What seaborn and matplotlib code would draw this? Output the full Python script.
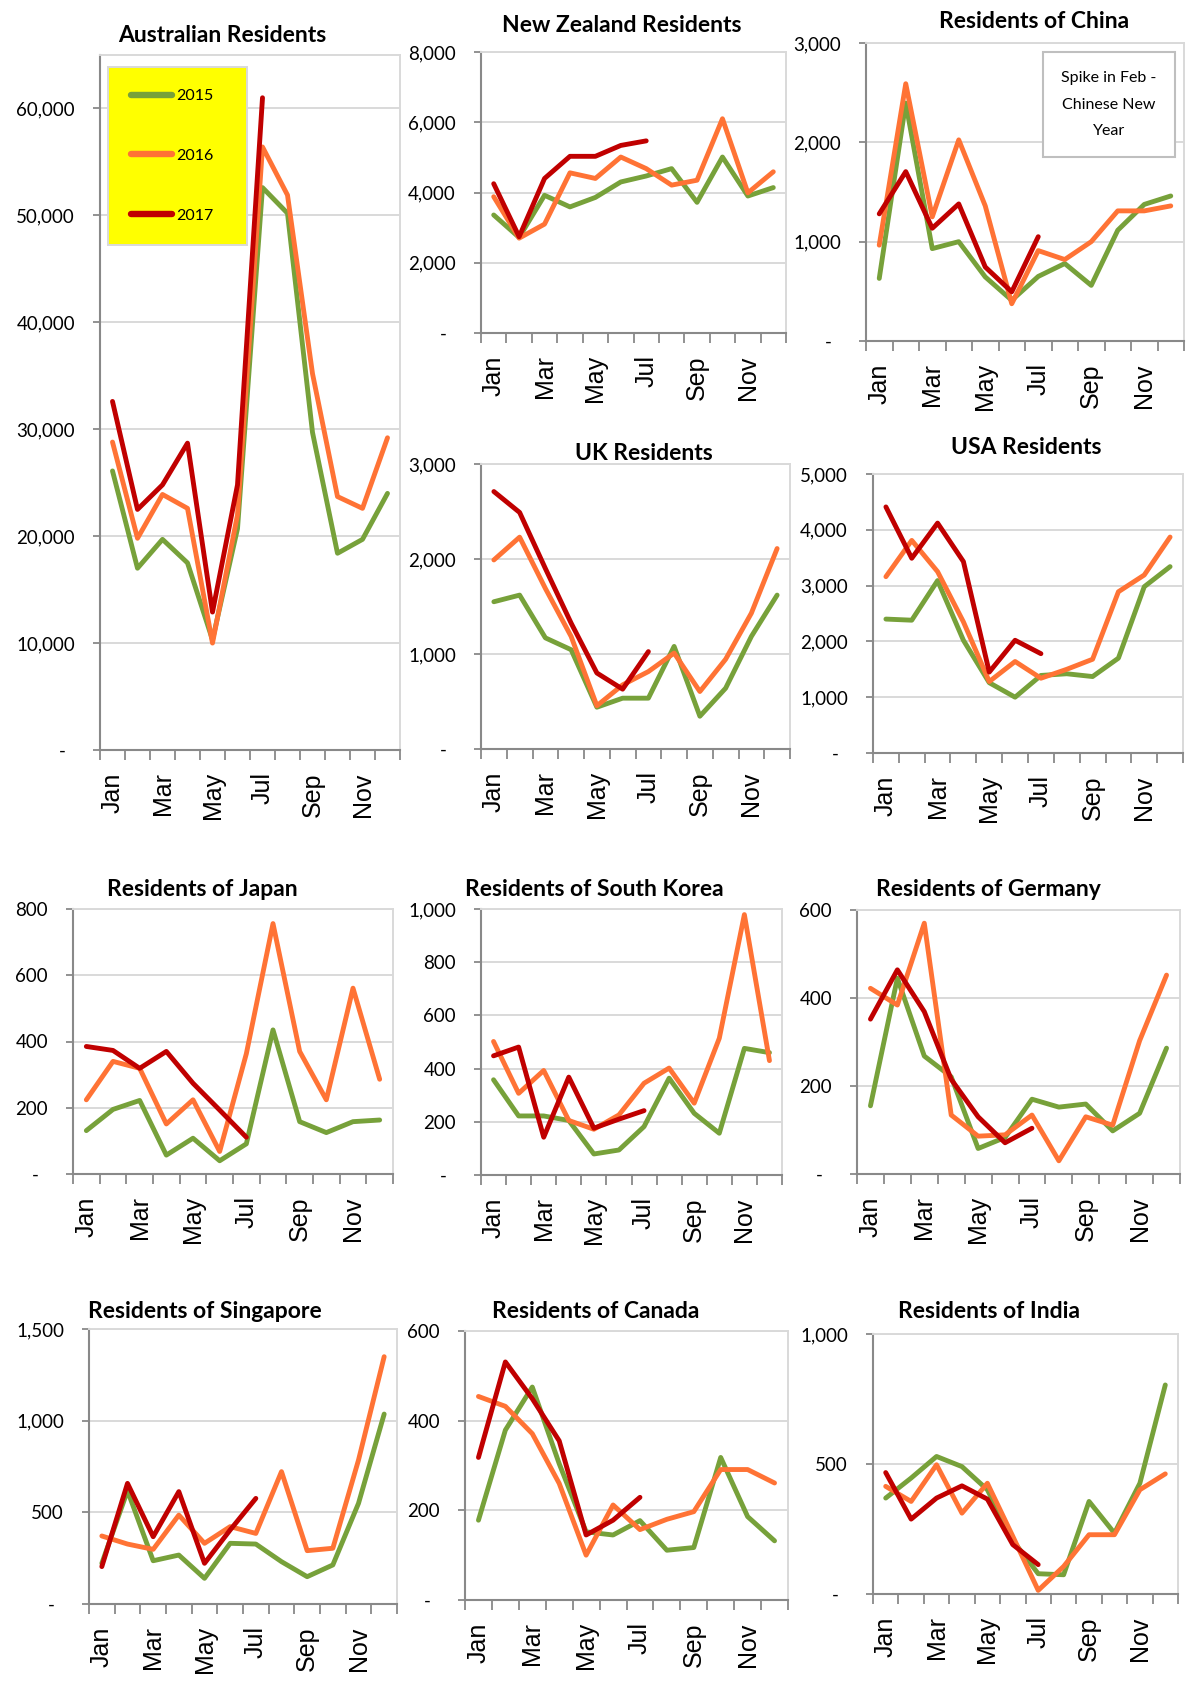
import numpy as np
import pandas as pd
import matplotlib
matplotlib.use("Agg")
import matplotlib.pyplot as plt
import seaborn as sns
from matplotlib.patches import Rectangle

# ── DATA ────────────────────────────────────────────────────
months = ["Jan", "Feb", "Mar", "Apr", "May", "Jun",
          "Jul", "Aug", "Sep", "Oct", "Nov", "Dec"]
years = ["2015", "2016", "2017"]

aus_2015 = [26100, 17000, 19700, 17500, 10300, 20700, 52600, 50200, 29700, 18400, 19700, 24000]
aus_2016 = [28800, 19800, 23900, 22600, 10000, 22000, 56400, 51900, 35200, 23700, 22600, 29200]
aus_2017 = [32600, 22500, 24800, 28700, 12900, 24800, 61000]

nz_2015 = [3360, 2720, 3920, 3590, 3860, 4300, 4470, 4680, 3720, 5010, 3900, 4140]
nz_2016 = [3880, 2700, 3100, 4560, 4400, 5010, 4680, 4210, 4350, 6100, 3990, 4590]
nz_2017 = [4250, 2740, 4400, 5030, 5030, 5340, 5470]

china_2015 = [630, 2395, 930, 1000, 645, 410, 650, 780, 560, 1115, 1375, 1460]
china_2016 = [965, 2590, 1250, 2025, 1360, 375, 910, 820, 1000, 1310, 1310, 1360]
china_2017 = [1280, 1705, 1135, 1380, 745, 495, 1050]

uk_2015 = [1550, 1620, 1170, 1045, 440, 535, 535, 1080, 345, 640, 1185, 1620]
uk_2016 = [1990, 2230, 1690, 1185, 455, 675, 815, 1010, 605, 945, 1430, 2110]
uk_2017 = [2710, 2490, 1900, 1325, 800, 630, 1025]

usa_2015 = [2400, 2380, 3090, 2020, 1260, 1000, 1390, 1420, 1370, 1700, 2980, 3340]
usa_2016 = [3160, 3810, 3250, 2350, 1280, 1640, 1340, 1500, 1680, 2890, 3190, 3870]
usa_2017 = [4410, 3490, 4120, 3430, 1450, 2020, 1780]

japan_2015 = [131, 195, 222, 57, 108, 40, 91, 435, 158, 125, 158, 163]
japan_2016 = [224, 340, 319, 151, 224, 68, 363, 756, 370, 224, 561, 286]
japan_2017 = [385, 373, 319, 370, 274, 193, 111]

korea_2015 = [358, 222, 222, 205, 79, 94, 182, 364, 232, 157, 476, 460]
korea_2016 = [502, 307, 393, 205, 172, 226, 345, 402, 270, 514, 979, 430]
korea_2017 = [448, 481, 142, 368, 176, 210, 242]

germany_2015 = [155, 445, 268, 221, 58, 83, 170, 152, 159, 98, 138, 286]
germany_2016 = [422, 384, 570, 134, 86, 89, 134, 30, 130, 111, 303, 452]
germany_2017 = [352, 464, 369, 215, 130, 71, 104]

singapore_2015 = [222, 618, 236, 267, 140, 331, 327, 231, 149, 213, 549, 1036]
singapore_2016 = [371, 327, 298, 485, 331, 422, 385, 722, 291, 304, 785, 1349]
singapore_2017 = [204, 658, 367, 613, 222, 404, 576]

canada_2015 = [178, 379, 475, 304, 152, 145, 177, 111, 117, 318, 186, 132]
canada_2016 = [454, 432, 371, 260, 100, 212, 157, 180, 197, 291, 291, 261]
canada_2017 = [318, 531, 449, 355, 145, 178, 229]

india_2015 = [369, 446, 529, 490, 401, 206, 78, 74, 356, 234, 426, 804]
india_2016 = [414, 356, 497, 311, 426, 222, 14, 106, 228, 228, 401, 462]
india_2017 = [467, 288, 369, 416, 365, 190, 113]

palette = {"2015": "#77A13A", "2016": "#FF7335", "2017": "#C00000"}
GREY = "#898989"
GRID = "#D9D9D9"

plt.rcParams["font.family"] = ["Lato", "DejaVu Sans"]

W, H = 1190, 1686
fig = plt.figure(figsize=(W / 100, H / 100), dpi=100)
fig.patch.set_facecolor("white")

# title, series, ymax, step, axes box (l, t, r, b px), title centre (px)
panels = [
    ("Australian Residents", (aus_2015, aus_2016, aus_2017), 65000, 10000, (100, 55, 400, 750), (222, 36)),
    ("New Zealand Residents", (nz_2015, nz_2016, nz_2017), 8000, 2000, (481, 52, 786, 333), (622, 26)),
    ("Residents of China", (china_2015, china_2016, china_2017), 3000, 1000, (866, 43, 1184, 341), (1034, 21)),
    ("UK Residents", (uk_2015, uk_2016, uk_2017), 3000, 1000, (481, 464, 790, 749), (644, 454)),
    ("USA Residents", (usa_2015, usa_2016, usa_2017), 5000, 1000, (873, 474, 1183, 753), (1026, 447)),
    ("Residents of Japan", (japan_2015, japan_2016, japan_2017), 800, 200, (73, 909, 393, 1174), (202, 889)),
    ("Residents of South Korea", (korea_2015, korea_2016, korea_2017), 1000, 200, (481, 909, 782, 1175), (594, 889)),
    ("Residents of Germany", (germany_2015, germany_2016, germany_2017), 600, 200, (857, 910, 1180, 1174), (988, 889)),
    ("Residents of Singapore", (singapore_2015, singapore_2016, singapore_2017), 1500, 500, (89, 1329, 397, 1604), (205, 1311)),
    ("Residents of Canada", (canada_2015, canada_2016, canada_2017), 600, 200, (465, 1331, 788, 1600), (596, 1311)),
    ("Residents of India", (india_2015, india_2016, india_2017), 1000, 500, (873, 1334, 1178, 1594), (989, 1311)),
]


def fmt(v):
    return "-  " if v == 0 else f"{v:,.0f}"


axes = []
for title, series, ymax, step, (l, t, r, b), (tx, ty) in panels:
    ax = fig.add_axes([l / W, 1 - b / H, (r - l) / W, (b - t) / H])
    axes.append(ax)

    rows = []
    for yr, vals in zip(years, series):
        for i, v in enumerate(vals):
            rows.append((i, v, yr))
    df = pd.DataFrame(rows, columns=["pos", "value", "year"])

    sns.lineplot(data=df, x="pos", y="value", hue="year", hue_order=years,
                 palette=palette, linewidth=3.5, errorbar=None, ax=ax,
                 legend=(title == "Australian Residents"),
                 solid_capstyle="round", solid_joinstyle="round")

    ax.set_xlim(-0.5, 11.5)
    ax.set_ylim(0, ymax)
    ax.set_xlabel("")
    ax.set_ylabel("")

    # category boundaries get the tick marks, every other month gets a label
    ax.set_xticks(np.arange(-0.5, 12, 1))
    ax.set_xticklabels([])
    ax.set_xticks(np.arange(0, 12, 2), minor=True)
    ax.set_xticklabels(months[::2], minor=True)
    ax.tick_params(axis="x", which="major", length=7.5, width=1.3,
                   color=GREY, direction="out")
    ax.tick_params(axis="x", which="minor", length=0, pad=16)
    for lab in ax.get_xticklabels(minor=True):
        lab.set_rotation(90)
        lab.set_fontfamily(["Liberation Sans", "DejaVu Sans"])
        lab.set_fontsize(18)

    yt = np.arange(0, ymax + 1, step)
    ax.set_yticks(yt)
    ax.set_yticklabels([fmt(v) for v in yt], fontsize=13.5)
    ax.tick_params(axis="y", length=5, width=1.3, color=GREY, pad=13)

    ax.grid(axis="y", color=GRID, linewidth=1.4)
    ax.set_axisbelow(True)
    for side in ("left", "bottom"):
        ax.spines[side].set_color(GREY)
        ax.spines[side].set_linewidth(1.5)
    for side in ("top", "right"):
        ax.spines[side].set_color(GRID)
        ax.spines[side].set_linewidth(1.4)

    fig.text(tx / W, 1 - ty / H, title, ha="center", va="center",
             fontsize=16.5, fontweight="bold")

# ── legend on the Australian chart ───────────────────────────
ax = axes[0]
handles, labels = ax.get_legend_handles_labels()
leg = ax.legend(handles, labels, loc="upper left",
                bbox_to_anchor=(0.028, 0.728, 0.463, 0.255), mode="expand",
                borderaxespad=0, fontsize=11.5, borderpad=1.4,
                labelspacing=2.85, handlelength=2.6, handletextpad=0.25,
                frameon=True, fancybox=False, framealpha=1,
                facecolor="#FFFF00", edgecolor=GRID)
leg.get_frame().set_linewidth(1.4)
for ln in leg.get_lines():
    ln.set_linewidth(4.6)
    ln.set_solid_capstyle("round")

# ── note on the China chart ──────────────────────────────────
ax = axes[2]
ax.add_patch(Rectangle((0.557, 0.618), 0.415, 0.353, transform=ax.transAxes,
                       facecolor="white", edgecolor="#BFBFBF", linewidth=1.5,
                       zorder=5))
ax.text(0.764, 0.793, "Spike in Feb -\nChinese New\nYear", transform=ax.transAxes,
        ha="center", va="center", fontsize=11.5, linespacing=2.15, zorder=6)

plt.savefig("out.png", dpi=100, facecolor="white")
